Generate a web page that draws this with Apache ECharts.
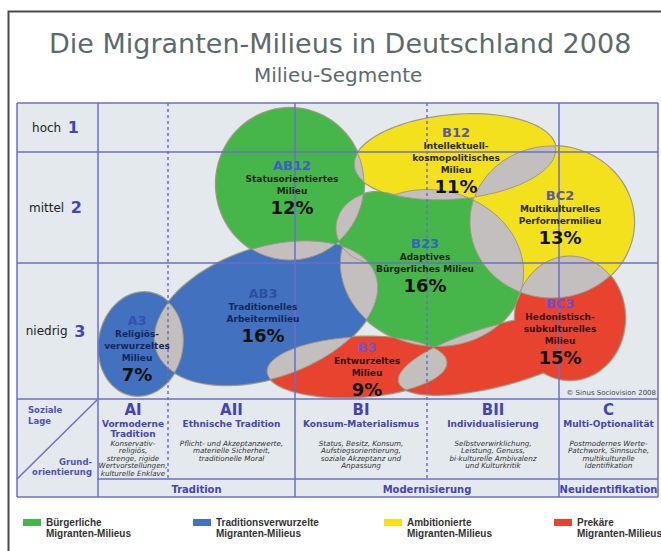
<!DOCTYPE html>
<html>
<head>
<meta charset="utf-8">
<script src="https://cdn.jsdelivr.net/npm/echarts@6/dist/echarts.min.js"></script>
<style>
html, body { margin: 0; padding: 0; background: #fff; }
#main { width: 661px; height: 551px; }
</style>
</head>
<body>
<div id="main"></div>
<script>
// --- milieus ---
var milieuCodes = ['AB12', 'B12', 'BC2', 'B23', 'AB3', 'A3', 'B3', 'BC3'];
var milieuNames = [
  ['Statusorientiertes', 'Milieu'],
  ['Intellektuell-', 'kosmopolitisches', 'Milieu'],
  ['Multikulturelles', 'Performermilieu'],
  ['Adaptives', 'Bürgerliches Milieu'],
  ['Traditionelles', 'Arbeitermilieu'],
  ['Religiös-', 'verwurzeltes', 'Milieu'],
  ['Entwurzeltes', 'Milieu'],
  ['Hedonistisch-', 'subkulturelles', 'Milieu']
];
var milieuShares = [12, 11, 13, 16, 16, 7, 9, 15];
var milieuGroup = [0, 2, 2, 0, 1, 1, 3, 3];
// label anchor (position in the map)
var labelX = [194, 358, 462, 327, 165, 39, 269, 462];
var labelY = [62, 29, 92, 140, 190, 217, 244, 200];

// ellipses making up each milieu (map units)
var shapeMilieu = [0, 1, 2, 3, 3, 4, 5, 6, 7, 7];
var shapeCx = [192, 357, 454, 334, 280, 168, 43, 259, 472, 402];
var shapeCy = [81, 54, 119, 165, 125, 210, 241, 264, 215, 252];
var shapeRx = [74, 101, 82, 92, 42, 116, 42, 90, 55, 105];
var shapeRy = [76, 42, 76, 78, 36, 65, 52, 30, 62, 30];
var shapeRot = [0, -5, 0, 10, 0, -19, 10, -3, 0, -15];

// legend groups
var groupNames = ['Bürgerliche\nMigranten-Milieus', 'Traditionsverwurzelte\nMigranten-Milieus',
  'Ambitionierte\nMigranten-Milieus', 'Prekäre\nMigranten-Milieus'];
var groupColors = ['#46b64a', '#4271bf', '#f3e11d', '#e8432f'];

// --- table axes ---
var rowWords = ['hoch', 'mittel', 'niedrig'];
var rowNums = ['1', '2', '3'];
var rowEdges = [0, 49, 160, 296, 376, 394];
var colEdges = [-81, 0, 70, 197, 329, 461, 560];
var colDashed = [false, false, true, false, true, false, false];
var colHeads = ['AI', 'AII', 'BI', 'BII', 'C'];
var colSubs = [['Vormoderne', 'Tradition'], ['Ethnische Tradition'], ['Konsum-Materialismus'],
  ['Individualisierung'], ['Multi-Optionalität']];
var colDescs = [
  ['Konservativ-', 'religiös,', 'strenge, rigide', 'Wertvorstellungen,', 'kulturelle Enklave'],
  ['Pflicht- und Akzeptanzwerte,', 'materielle Sicherheit,', 'traditionelle Moral'],
  ['Status, Besitz, Konsum,', 'Aufstiegsorientierung,', 'soziale Akzeptanz und', 'Anpassung'],
  ['Selbstverwirklichung,', 'Leistung, Genuss,', 'bi-kulturelle Ambivalenz', 'und Kulturkritik'],
  ['Postmodernes Werte-', 'Patchwork, Sinnsuche,', 'multikulturelle', 'Identifikation']
];
var bandNames = ['Tradition', 'Modernisierung', 'Neuidentifikation'];
var bandFrom = [0, 197, 461];
var bandTo = [197, 461, 560];

var codeColors = ['#3b5fc4', '#5a5a9c', '#5a5a9c', '#2f63c4', '#2d4ea6', '#3550b4', '#7255cc', '#6a50d0'];
var nameColors = ['#1c2a1c', '#2a2a10', '#2a2a10', '#1c2a1c', '#14265e', '#14265e', '#3a1010', '#3a1010'];
var lineColor = '#6e6ec9';
var outlineColor = '#9f9a86';
var overlapColor = '#c4bfbf';
var headColor = '#4545b2';
var FONT = 'DejaVu Sans';

function ellipsePts(cx, cy, rx, ry, rot) {
  var th = rot * Math.PI / 180, pts = [];
  for (var k = 0; k < 96; k++) {
    var t = k / 96 * 2 * Math.PI;
    pts.push([cx + rx * Math.cos(th) * Math.cos(t) - ry * Math.sin(th) * Math.sin(t),
              cy + rx * Math.sin(th) * Math.cos(t) + ry * Math.cos(th) * Math.sin(t)]);
  }
  return pts;
}

function clipPoly(subject, clip) {
  var area = 0, n = clip.length;
  for (var i = 0; i < n; i++) {
    var a = clip[i], b = clip[(i + 1) % n];
    area += a[0] * b[1] - b[0] * a[1];
  }
  var s = area > 0 ? 1 : -1;
  function inside(p, a, b) {
    return s * ((b[0] - a[0]) * (p[1] - a[1]) - (b[1] - a[1]) * (p[0] - a[0])) >= 0;
  }
  function cross(p, q, a, b) {
    var d1x = q[0] - p[0], d1y = q[1] - p[1], d2x = b[0] - a[0], d2y = b[1] - a[1];
    var den = d1x * d2y - d1y * d2x;
    var t = ((a[0] - p[0]) * d2y - (a[1] - p[1]) * d2x) / den;
    return [p[0] + t * d1x, p[1] + t * d1y];
  }
  var out = subject;
  for (var i = 0; i < n && out.length; i++) {
    var a = clip[i], b = clip[(i + 1) % n], input = out;
    out = [];
    for (var j = 0; j < input.length; j++) {
      var p = input[j], q = input[(j + 1) % input.length];
      var pin = inside(p, a, b), qin = inside(q, a, b);
      if (pin) {
        out.push(p);
        if (!qin) out.push(cross(p, q, a, b));
      } else if (qin) {
        out.push(cross(p, q, a, b));
      }
    }
  }
  return out;
}

var shapePolys = shapeCx.map(function (cx, i) {
  return ellipsePts(cx, shapeCy[i], shapeRx[i], shapeRy[i], shapeRot[i]);
});

var overlapPolys = [];
for (var i = 0; i < shapePolys.length; i++) {
  for (var j = i + 1; j < shapePolys.length; j++) {
    if (shapeMilieu[i] === shapeMilieu[j]) continue;
    var ov = clipPoly(shapePolys[i], shapePolys[j]);
    if (ov.length > 2) overlapPolys.push(ov);
  }
}

// table lines
var segs = [];
colEdges.forEach(function (x, i) {
  segs.push([x, 0, x, colDashed[i] ? rowEdges[4] : rowEdges[5], colDashed[i] ? 1 : 0]);
});
rowEdges.forEach(function (y, i) {
  segs.push([i === 4 ? colEdges[1] : colEdges[0], y, colEdges[6], y, 0]);
});
segs.push([colEdges[0], rowEdges[4], colEdges[1] - 1, rowEdges[3] + 1, 0]);

function txt(x, y, s, size, weight, color, align, italic) {
  return {
    type: 'text', x: x, y: y,
    style: {
      text: s, fill: color, fontSize: size, fontWeight: weight,
      fontStyle: italic ? 'italic' : 'normal', fontFamily: FONT,
      align: align || 'center', verticalAlign: 'middle',
      textAlign: align || 'center', textVerticalAlign: 'middle'
    }
  };
}

function polyRenderer(polys, fillFn, stroke, lw) {
  return function (params, api) {
    var k = api.value(2);
    return {
      type: 'polygon',
      shape: { points: polys[k].map(function (p) { return api.coord(p); }) },
      style: { fill: fillFn(k), stroke: stroke, lineWidth: lw }
    };
  };
}

var series = [];

// outline layer
series.push({
  type: 'custom', silent: true, z: 1,
  data: shapeCx.map(function (cx, k) { return [cx, shapeCy[k], k]; }),
  renderItem: polyRenderer(shapePolys, function (k) { return groupColors[milieuGroup[shapeMilieu[k]]]; }, outlineColor, 2.4)
});

// fills per group
groupNames.forEach(function (name, g) {
  var items = [];
  shapeCx.forEach(function (cx, k) {
    if (milieuGroup[shapeMilieu[k]] === g) items.push([cx, shapeCy[k], k]);
  });
  series.push({
    type: 'custom', name: name, silent: true, z: 2,
    itemStyle: { color: groupColors[g] },
    data: items,
    renderItem: polyRenderer(shapePolys, function () { return groupColors[g]; }, 'none', 0)
  });
});

// overlaps
series.push({
  type: 'custom', silent: true, z: 3,
  data: overlapPolys.map(function (p, k) { return [p[0][0], p[0][1], k]; }),
  renderItem: polyRenderer(overlapPolys, function () { return overlapColor; }, outlineColor, 1)
});

// table lines
series.push({
  type: 'custom', silent: true, z: 4,
  data: segs,
  encode: { x: [0, 2], y: [1, 3] },
  renderItem: function (params, api) {
    var a = api.coord([api.value(0), api.value(1)]);
    var b = api.coord([api.value(2), api.value(3)]);
    return {
      type: 'line',
      shape: { x1: a[0], y1: a[1], x2: b[0], y2: b[1] },
      style: { stroke: lineColor, lineWidth: 1.5, lineDash: api.value(4) ? [3, 3] : null }
    };
  }
});

// milieu labels
series.push({
  type: 'custom', silent: true, z: 5,
  data: labelX.map(function (x, k) { return [x, labelY[k], k]; }),
  renderItem: function (params, api) {
    var k = api.value(2);
    var pt = api.coord([api.value(0), api.value(1)]);
    var y = pt[1], kids = [];
    kids.push(txt(pt[0], y, milieuCodes[k], 13, 'bold', codeColors[k]));
    y += 13.5;
    milieuNames[k].forEach(function (n, m) {
      if (m) y += 12;
      kids.push(txt(pt[0], y, n, 9, 'bold', nameColors[k]));
    });
    y += 16.5;
    kids.push(txt(pt[0], y, milieuShares[k] + '%', 18, 'bold', '#111'));
    return { type: 'group', children: kids };
  }
});

// row labels
series.push({
  type: 'custom', silent: true, z: 5,
  data: rowWords.map(function (w, k) { return [(colEdges[0] + colEdges[1]) / 2 - 2, (rowEdges[k] + rowEdges[k + 1]) / 2, k]; }),
  renderItem: function (params, api) {
    var k = api.value(2);
    var pt = api.coord([api.value(0), api.value(1)]);
    return {
      type: 'text', x: pt[0], y: pt[1],
      style: {
        text: '{w|' + rowWords[k] + '}  {n|' + rowNums[k] + '}',
        align: 'center', verticalAlign: 'middle', textAlign: 'center', textVerticalAlign: 'middle',
        rich: {
          w: { fontSize: 12, fontFamily: FONT, fill: '#222', color: '#222' },
          n: { fontSize: 16, fontWeight: 'bold', fontFamily: FONT, fill: headColor, color: headColor }
        }
      }
    };
  }
});

// column descriptions
series.push({
  type: 'custom', silent: true, z: 5,
  data: colHeads.map(function (h, k) { return [(colEdges[k + 1] + colEdges[k + 2]) / 2, rowEdges[3], k]; }),
  renderItem: function (params, api) {
    var k = api.value(2);
    var pt = api.coord([api.value(0), api.value(1)]);
    var x = pt[0], y = pt[1] + 11, kids = [];
    kids.push(txt(x, y, colHeads[k], 15, 'bold', headColor));
    y += 14;
    colSubs[k].forEach(function (s, m) {
      if (m) y += 10;
      kids.push(txt(x, y, s, 9, 'bold', headColor));
    });
    y = pt[1] + 44;
    colDescs[k].forEach(function (s, m) {
      kids.push(txt(x, y + m * 7.6, s, 7.2, 'normal', '#333', 'center', true));
    });
    return { type: 'group', children: kids };
  }
});

// band labels
series.push({
  type: 'custom', silent: true, z: 5,
  data: bandNames.map(function (b, k) { return [(bandFrom[k] + bandTo[k]) / 2, (rowEdges[4] + rowEdges[5]) / 2, k]; }),
  renderItem: function (params, api) {
    var k = api.value(2);
    var pt = api.coord([api.value(0), api.value(1)]);
    return txt(pt[0], pt[1] + 1, bandNames[k], 10, 'bold', headColor);
  }
});

// corner cell + copyright
series.push({
  type: 'custom', silent: true, z: 5,
  data: [[colEdges[0], rowEdges[3], 0]],
  renderItem: function (params, api) {
    var a = api.coord([colEdges[0], rowEdges[3]]);
    var b = api.coord([colEdges[1], rowEdges[4]]);
    var c = api.coord([colEdges[6], rowEdges[3]]);
    return {
      type: 'group', children: [
        txt(a[0] + 11, a[1] + 11, 'Soziale', 8.5, 'bold', '#5252b4', 'left'),
        txt(a[0] + 11, a[1] + 22, 'Lage', 8.5, 'bold', '#5252b4', 'left'),
        txt(b[0] - 6, b[1] - 17, 'Grund-', 8.5, 'bold', '#5252b4', 'right'),
        txt(b[0] - 6, b[1] - 7, 'orientierung', 8.5, 'bold', '#5252b4', 'right'),
        txt(c[0] - 2, c[1] - 6, '© Sinus Sociovision 2008', 7, 'normal', '#444', 'right')
      ]
    };
  }
});

var legendLeft = [18, 188, 379, 549];
var legends = groupNames.map(function (name, g) {
  return {
    left: legendLeft[g], top: 512,
    orient: 'horizontal',
    selectedMode: false,
    itemWidth: 18, itemHeight: 18, itemGap: 0,
    icon: 'path://M0,0h18v7h-18zM0,17.99h0.01v0.01h-0.01z',
    data: [{ name: name, itemStyle: { color: groupColors[g] } }],
    textStyle: { fontSize: 10, fontWeight: 'bold', color: '#333', fontFamily: 'Liberation Sans', lineHeight: 11 }
  };
});

var chart = echarts.init(document.getElementById('main'), null, { renderer: 'svg' });
chart.setOption({
  animation: false,
  backgroundColor: '#fff',
  title: [{
    text: 'Die Migranten-Milieus in Deutschland 2008',
    left: 49, top: 28, padding: 0,
    textStyle: { fontSize: 27, fontWeight: 'normal', color: '#5b6b6b', fontFamily: FONT, lineHeight: 30 }
  }, {
    text: 'Milieu-Segmente',
    left: 254, top: 64, padding: 0,
    textStyle: { fontSize: 20, fontWeight: 'normal', color: '#5b6b6b', fontFamily: FONT, lineHeight: 22 }
  }],
  legend: legends,
  graphic: [{
    type: 'rect', left: 6, top: 9, silent: true,
    shape: { width: 700, height: 600 },
    style: { fill: 'none', stroke: '#4a4a4a', lineWidth: 2 }
  }],
  grid: { left: 17, top: 103, width: 641, height: 394, show: true, backgroundColor: '#e3e9ed', borderWidth: 0 },
  xAxis: { type: 'value', min: -81, max: 560, show: false },
  yAxis: { type: 'value', min: 0, max: 394, inverse: true, show: false },
  series: series
});
</script>
</body>
</html>
